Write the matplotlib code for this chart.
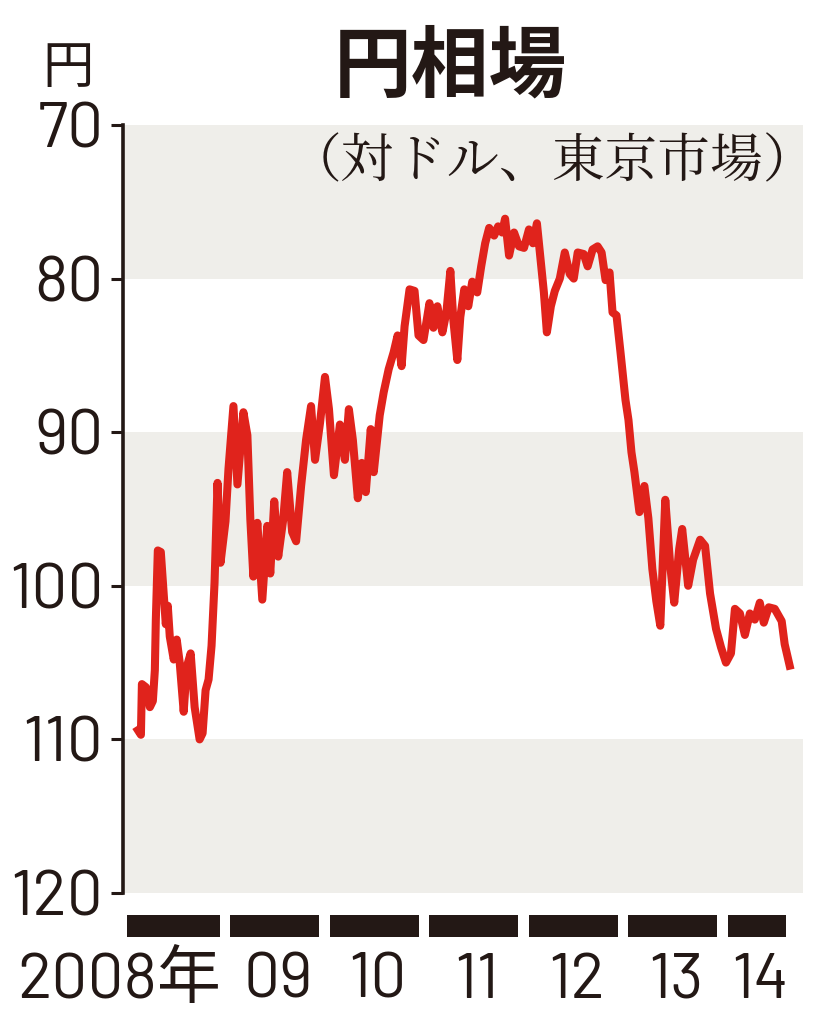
import matplotlib
matplotlib.use("Agg")
import matplotlib.pyplot as plt
import matplotlib.transforms as mtransforms

# 円相場 (対ドル、東京市場)
years = [2008.15, 2008.18, 2008.19, 2008.23, 2008.27, 2008.30, 2008.32, 2008.33,
         2008.35, 2008.38, 2008.41, 2008.43, 2008.45, 2008.47, 2008.51, 2008.54,
         2008.57, 2008.61, 2008.64, 2008.68, 2008.72, 2008.77, 2008.80, 2008.83,
         2008.86, 2008.89, 2008.92, 2008.95, 2008.98, 2009.03, 2009.06, 2009.11,
         2009.15, 2009.21, 2009.25, 2009.28, 2009.31, 2009.35, 2009.40, 2009.45,
         2009.48, 2009.52, 2009.56, 2009.61, 2009.65, 2009.70, 2009.74, 2009.79,
         2009.84, 2009.89, 2009.93, 2009.98, 2010.03, 2010.07, 2010.12, 2010.18,
         2010.23, 2010.27, 2010.31, 2010.36, 2010.40, 2010.44, 2010.49, 2010.52,
         2010.58, 2010.62, 2010.67, 2010.72, 2010.76, 2010.80, 2010.83, 2010.88,
         2010.93, 2010.97, 2011.02, 2011.08, 2011.12, 2011.16, 2011.21, 2011.25,
         2011.29, 2011.32, 2011.36, 2011.39, 2011.43, 2011.47, 2011.51, 2011.56,
         2011.60, 2011.64, 2011.68, 2011.73, 2011.77, 2011.81, 2011.84, 2011.88,
         2011.93, 2011.98, 2012.03, 2012.08, 2012.12, 2012.16, 2012.19, 2012.23,
         2012.26, 2012.30, 2012.34, 2012.39, 2012.44, 2012.49, 2012.53, 2012.57,
         2012.63, 2012.67, 2012.72, 2012.77, 2012.81, 2012.85, 2012.89, 2012.92,
         2012.96, 2013.00, 2013.05, 2013.08, 2013.11, 2013.14, 2013.19, 2013.24,
         2013.28, 2013.32, 2013.36, 2013.40, 2013.45, 2013.50, 2013.54, 2013.59,
         2013.62, 2013.68, 2013.73, 2013.80, 2013.85, 2013.90, 2013.96, 2014.01,
         2014.06, 2014.11, 2014.15, 2014.20, 2014.25, 2014.30, 2014.35, 2014.40,
         2014.44, 2014.49, 2014.55, 2014.62, 2014.65, 2014.70]
yen = [109.4, 109.7, 106.4, 106.6, 107.9, 107.5, 105.5, 102.2,
       97.7, 97.8, 100.6, 102.5, 101.3, 103.3, 104.8, 103.5,
       105.0, 108.2, 105.3, 104.4, 107.9, 110.0, 109.6, 106.8,
       106.1, 103.9, 99.8, 93.3, 98.5, 95.8, 92.4, 88.3,
       93.4, 88.7, 90.2, 95.7, 99.4, 95.9, 100.9, 96.1,
       99.2, 94.5, 98.1, 95.7, 92.6, 96.5, 97.1, 93.5,
       90.5, 88.3, 91.8, 89.4, 86.4, 88.5, 92.8, 89.5,
       91.8, 88.5, 90.5, 94.3, 92.0, 93.9, 89.8, 92.6,
       88.9, 87.4, 85.9, 84.8, 83.7, 85.7, 83.1, 80.7,
       80.8, 83.7, 84.0, 81.6, 83.2, 81.8, 83.5, 82.2,
       79.5, 82.7, 85.3, 82.5, 80.7, 81.8, 80.2, 80.9,
       79.2, 77.7, 76.7, 77.2, 76.6, 77.0, 76.1, 78.5,
       77.0, 77.9, 78.0, 76.8, 77.7, 76.4, 78.3, 80.9,
       83.5, 81.8, 80.8, 80.0, 78.3, 79.7, 80.0, 78.3,
       78.4, 79.2, 78.1, 77.9, 78.3, 80.1, 79.6, 82.2,
       82.4, 84.8, 87.9, 89.2, 91.3, 92.6, 95.2, 93.5,
       95.6, 98.9, 101.0, 102.6, 94.4, 98.7, 101.1, 97.6,
       96.3, 100.0, 98.3, 97.0, 97.4, 100.5, 102.8, 104.0,
       105.0, 104.4, 101.5, 101.8, 103.2, 101.8, 102.2, 101.1,
       102.4, 101.4, 101.5, 102.3, 103.8, 105.2]

yticks = [70, 80, 90, 100, 110, 120]
gray_bands = [(70, 80), (90, 100), (110, 120)]
bar_years = [2008, 2009, 2010, 2011, 2012, 2013, 2014]
bar_labels = ["2008年", "09", "10", "11", "12", "13", "14"]

RED = "#e0231c"
GRAY = "#efeeea"
INK = "#231815"
num_font = ["Barlow", "Liberation Sans", "Noto Sans CJK JP"]
jp_font = ["Noto Sans CJK JP", "DejaVu Sans"]
jp_serif = ["Noto Serif CJK JP", "Noto Sans CJK JP", "DejaVu Sans"]

W, H = 817, 1024
fig = plt.figure(figsize=(W / 100, H / 100), dpi=100)
fig.patch.set_facecolor("white")

# main plot area: x from px 123 to 803, y from 125 (70) to 893 (120)
ax = fig.add_axes([123 / W, 1 - 893 / H, 680 / W, 768 / H])
ax.set_xlim(2008.0, 2008.0 + 680 / 99.5)
ax.set_ylim(120, 70)

for lo, hi in gray_bands:
    ax.axhspan(lo, hi, color=GRAY, lw=0, zorder=0)

ax.plot(years, yen, color=RED, lw=5.8, zorder=3)

for s in ["top", "right", "bottom"]:
    ax.spines[s].set_visible(False)
ax.spines["left"].set_linewidth(2.6)
ax.spines["left"].set_color(INK)
ax.set_xticks([])
ax.set_yticks(yticks)
ax.set_yticklabels([str(t) for t in yticks])
ax.tick_params(axis="y", length=9, width=2.2, color=INK, pad=5,
               labelsize=46, labelcolor=INK)
for lab in ax.get_yticklabels():
    lab.set_family(num_font)

# year strip below the plot
ax2 = fig.add_axes([123 / W, 1 - 937 / H, 680 / W, 22 / H], sharex=ax)
ax2.axis("off")
starts = [y + 0.08 for y in bar_years]
starts[0] = 2008.04
ends = [y + 0.97 for y in bar_years]
ends[-1] = years[-1] - 0.04
ax2.barh([0] * len(bar_years), [e - s for s, e in zip(starts, ends)],
         left=starts, height=1.0, color=INK)
ax2.set_ylim(-0.5, 0.5)

trans = mtransforms.blended_transform_factory(ax.transData, fig.transFigure)
for i, lab in enumerate(bar_labels):
    if i == 0:
        ax.text(ends[0] + 0.01, 1 - 982 / H, lab, transform=trans, ha="right",
                va="center", fontsize=46, color=INK, family=num_font)
    else:
        ax.text((starts[i] + ends[i]) / 2 + 0.03, 1 - 982 / H, lab, transform=trans,
                ha="center", va="center", fontsize=46, color=INK, family=num_font)

# titles
fig.text(450 / W, 1 - 68 / H, "円相場", ha="center", va="center", fontsize=56,
         weight="bold", color=INK, family=jp_font)
fig.text(68 / W, 1 - 68 / H, "円", ha="center", va="center", fontsize=37,
         color=INK, family=jp_font)
fig.text(816 / W, 1 - 163 / H, "（対ドル、東京市場）", ha="right", va="center",
         fontsize=38, color=INK, family=jp_serif)

fig.savefig("out.png", dpi=100)
